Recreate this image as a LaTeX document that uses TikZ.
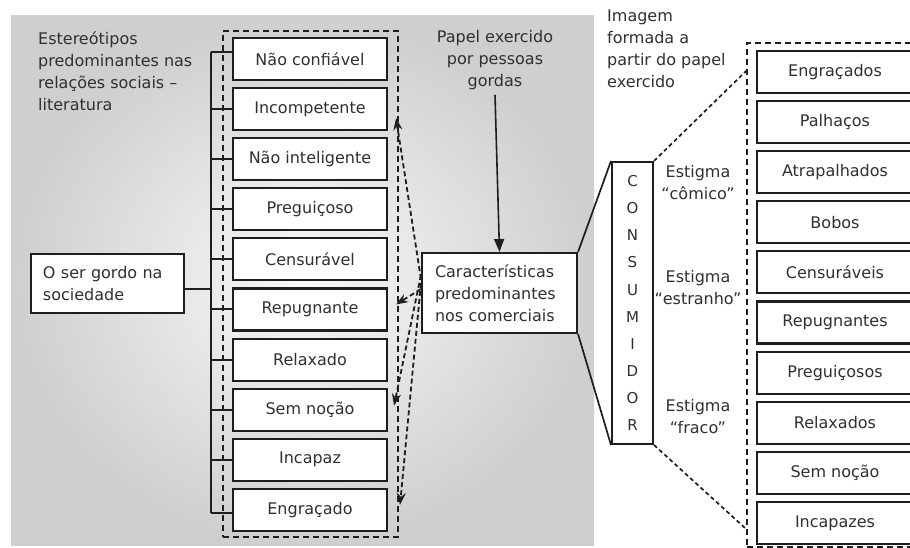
\documentclass[tikz,border=0pt]{standalone}
\usepackage{fontspec}
\setmainfont{DejaVu Sans}
\usetikzlibrary{arrows.meta}
\definecolor{ink}{HTML}{1E1E1E}
\definecolor{txt}{HTML}{303030}
\begin{document}
\begin{tikzpicture}[x=1bp,y=-1bp,
  every node/.style={font=\fontsize{16bp}{22bp}\selectfont, text=txt},
  box/.style={draw=ink, line width=2.1bp, fill=white, minimum width=154bp,
    minimum height=42bp, inner sep=0pt},
  rbox/.style={draw=ink, line width=2.2bp, fill=white, minimum width=156bp,
    minimum height=42bp, inner sep=0pt},
  grp/.style={draw=ink, line width=1.9bp, dash pattern=on 6bp off 4bp, inner sep=0pt},
  brk/.style={draw=ink, line width=2bp},
  darrow/.style={draw=ink, line width=1.8bp, dash pattern=on 5bp off 3bp,
    -{Stealth[length=12bp,width=9bp]}},
  dline/.style={draw=ink, line width=1.7bp, dash pattern=on 4bp off 3bp},
  plain/.style={inner sep=0pt}
]
\useasboundingbox (0,0) rectangle (910,548);
\clip (0,0) rectangle (910,548);

% shaded panel behind the left part
\shade[inner color=gray!5, outer color=gray!38] (11,16) rectangle (594,545);

% dashed frame around the stereotype list
\node[grp, minimum width=175bp, minimum height=506bp] (grupo) at (310.5,284) {};

% stereotype boxes
\foreach \i/\y/\t in {1/59/Não confiável, 2/109.1/Incompetente, 3/159.2/Não inteligente,
  4/209.3/Preguiçoso, 5/259.4/Censurável, 6/309.5/Repugnante, 7/359.6/Relaxado,
  8/409.7/Sem noção, 9/459.8/Incapaz, 10/509.9/Engraçado}
  \node[box] (L\i) at (310,\y) {\t};

% bracket joining the list
\coordinate (bt) at (211,52);
\coordinate (bb) at (211,513);
\coordinate (gj) at (211,289);
\draw[brk] (bt) -- (bb);
\draw[brk] (bt) -- (bt -| L1.west);
\foreach \i in {2,...,9}
  \draw[brk] (bt |- L\i.west) -- (L\i.west);
\draw[brk] (bb) -- (bb -| L10.west);

% left labels
\node[plain, anchor=west, align=left] (estereo) at (38,71.5)
  {Estereótipos\\predominantes nas\\relações sociais –\\literatura};
\node[draw=ink, line width=2.1bp, fill=white, minimum width=153bp, minimum height=59bp,
  text width=129bp, inner xsep=12bp, align=left] (gordo) at (107.5,283.5)
  {O ser gordo na\\sociedade};
\draw[brk] (gordo.east |- gj) -- (gj);

% role played and commercials
\node[plain, align=center] (papel) at (495,60) {Papel exercido\\por pessoas\\gordas};
\node[draw=ink, line width=2.1bp, fill=white, minimum width=155bp, minimum height=80bp,
  text width=129bp, inner xsep=13bp, align=left] (car) at (499.5,293)
  {Características\\predominantes\\nos comerciais};
\draw[draw=ink, line width=1.6bp, -{Triangle[length=13bp,width=10bp]}]
  ([yshift=-5bp]papel.south) -- (car.north);

% dashed arrows back to the stereotypes
\draw[darrow] ([yshift=14bp]car.west) -- ([xshift=8bp,yshift=-9bp]L2.east);
\draw[darrow] ([yshift=4bp]car.west) -- ([xshift=8bp,yshift=5bp]L6.east);
\draw[darrow] ([yshift=18bp]car.west) -- ([xshift=6bp,yshift=4bp]L8.east);
\draw[darrow] ([yshift=10bp]car.west) -- ([xshift=12bp,yshift=5bp]L10.east);

% consumer column
\node[draw=ink, line width=2bp, fill=white, minimum width=41bp, minimum height=282bp,
  inner sep=0pt, align=center, font=\fontsize{15bp}{27.1bp}\selectfont] (cons) at (632.5,303)
  {C\\O\\N\\S\\U\\M\\I\\D\\O\\R};
\draw[draw=ink, line width=1.7bp] (car.north east) -- (cons.north west);
\draw[draw=ink, line width=1.7bp] (car.south east) -- (cons.south west);

% image formed
\node[plain, anchor=west, align=left] (imagem) at (607,49)
  {Imagem\\formada a\\partir do papel\\exercido};
\node[plain, align=center] (est1) at (698,182.5) {Estigma\\“cômico”};
\node[plain, align=center] (est2) at (698,288) {Estigma\\“estranho”};
\node[plain, align=center] (est3) at (698,417) {Estigma\\“fraco”};

\node[grp, minimum width=180bp, minimum height=504bp] (imgs) at (837,295) {};
\foreach \i/\y/\t in {1/72/Engraçados, 2/122.1/Palhaços, 3/172.2/Atrapalhados,
  4/222.3/Bobos, 5/272.4/Censuráveis, 6/322.5/Repugnantes, 7/372.6/Preguiçosos,
  8/422.7/Relaxados, 9/472.8/Sem noção, 10/522.9/Incapazes}
  \node[rbox] (R\i) at (835,\y) {\t};

\draw[dline] (cons.north east) -- ([yshift=-29bp]imgs.north west);
\draw[dline] (cons.south east) -- ([yshift=19bp]imgs.south west);
\end{tikzpicture}
\end{document}
